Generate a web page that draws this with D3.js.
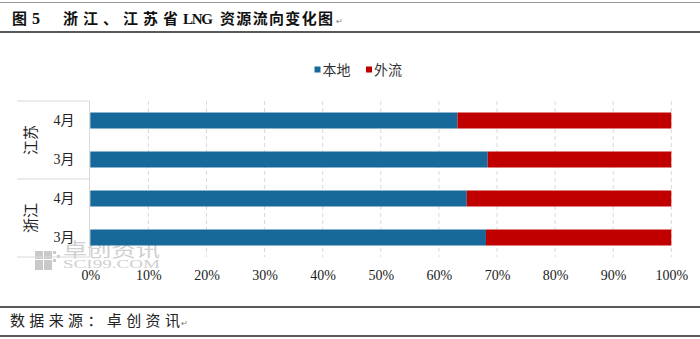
<!DOCTYPE html>
<html>
<head>
<meta charset="utf-8">
<script src="https://cdn.jsdelivr.net/npm/d3@7/dist/d3.min.js"></script>
<style>
  html, body { margin: 0; padding: 0; background: #fff; }
  svg { display: block; }
  text { font-family: "Liberation Serif", "Noto Sans CJK SC", serif; }
</style>
</head>
<body>
<svg id="chart" width="700" height="339"></svg>
<script>
// LNG flow shares by province and month (percent)
const provinces = ["江苏", "浙江"];
const rowProvince = ["江苏", "江苏", "浙江", "浙江"];
const rowMonth = ["4月", "3月", "4月", "3月"];
const localShare = [63.2, 68.4, 64.8, 68.1];
const outflowShare = [36.8, 31.6, 35.2, 31.9];
const seriesNames = ["本地", "外流"];
const seriesColors = ["#17699a", "#c00000"];
const tickValues = [0, 10, 20, 30, 40, 50, 60, 70, 80, 90, 100];
const tickLabels = ["0%", "10%", "20%", "30%", "40%", "50%", "60%", "70%", "80%", "90%", "100%"];

const svg = d3.select("#chart");
const cjk = "\"Noto Sans CJK SC\", sans-serif";

// Title block with rules above and below
svg.append("line").attr("x1", 0).attr("x2", 700).attr("y1", 2.5).attr("y2", 2.5)
  .attr("stroke", "#9a9a9a").attr("stroke-width", 1);
svg.append("line").attr("x1", 0).attr("x2", 700).attr("y1", 32).attr("y2", 32)
  .attr("stroke", "#222").attr("stroke-width", 1.3);
const titleParts = [
  { t: "图", x: 12, len: null, size: 15 },
  { t: "5", x: 32, len: null, size: 16 },
  { t: "浙江、江苏省", x: 63, len: 115, size: 15 },
  { t: "LNG", x: 183, len: 30, size: 15 },
  { t: "资源流向变化图", x: 220, len: 113, size: 15 }
];
titleParts.forEach(p => {
  const t = svg.append("text").attr("x", p.x).attr("y", 23.5)
    .attr("font-size", p.size).attr("font-weight", "bold").attr("fill", "#111")
    .text(p.t);
  if (p.len) t.attr("textLength", p.len).attr("lengthAdjust", "spacing");
});
svg.append("text").attr("x", 336).attr("y", 24)
  .attr("font-size", 8).attr("fill", "#777").text("↵");

// Source footer
svg.append("line").attr("x1", 0).attr("x2", 700).attr("y1", 307).attr("y2", 307)
  .attr("stroke", "#222").attr("stroke-width", 1.3);
svg.append("line").attr("x1", 0).attr("x2", 700).attr("y1", 336).attr("y2", 336)
  .attr("stroke", "#222").attr("stroke-width", 1.3);
svg.append("text").attr("x", 10).attr("y", 326)
  .attr("font-size", 15).attr("fill", "#222").style("font-family", cjk)
  .attr("textLength", 170).attr("lengthAdjust", "spacing")
  .text("数据来源：卓创资讯");
svg.append("text").attr("x", 181).attr("y", 326)
  .attr("font-size", 8).attr("fill", "#777").text("↵");

// Scales
const x = d3.scaleLinear().domain([0, 100]).range([90.3, 671.3]);
const rowIds = d3.range(rowMonth.length);
const y = d3.scaleBand().domain(rowIds).range([101, 257]).paddingInner(0.59).paddingOuter(0.295);
const plotTop = 101, plotBottom = 257;

// Dashed vertical gridlines
svg.append("g").selectAll("line").data(tickValues.slice(1)).join("line")
  .attr("x1", d => x(d)).attr("x2", d => x(d))
  .attr("y1", plotTop).attr("y2", plotBottom)
  .attr("stroke", "#d9d9d9").attr("stroke-width", 1).attr("stroke-dasharray", "4,3");

// Watermark
const wm = svg.append("g").attr("fill", "#c9c9c9");
[[35, 251, 8, 8], [44, 251, 8, 8], [35, 260, 8, 10], [44, 260, 8, 10]].forEach(r => {
  wm.append("rect").attr("x", r[0]).attr("y", r[1]).attr("width", r[2]).attr("height", r[3]);
});
wm.append("rect").attr("x", 53).attr("y", 251).attr("width", 3).attr("height", 3);
wm.append("rect").attr("x", 57).attr("y", 255).attr("width", 3).attr("height", 3);
wm.append("rect").attr("x", 53).attr("y", 259).attr("width", 3).attr("height", 3);
wm.append("text").attr("x", 63).attr("y", 257).attr("font-size", 19)
  .style("font-family", cjk).attr("textLength", 97).attr("lengthAdjust", "spacingAndGlyphs")
  .attr("fill", "#d0d0d0").text("卓创资讯");
wm.append("text").attr("x", 63).attr("y", 268).attr("font-size", 12)
  .attr("textLength", 97).attr("lengthAdjust", "spacingAndGlyphs")
  .attr("fill", "#d0d0d0").text("SCI99.COM");

// Stacked bars
const stack = rowIds.map(i => [
  { s: 0, x0: 0, x1: localShare[i], i },
  { s: 1, x0: localShare[i], x1: localShare[i] + outflowShare[i], i }
]).flat();
svg.append("g").selectAll("rect").data(stack).join("rect")
  .attr("x", d => x(d.x0))
  .attr("width", d => x(d.x1) - x(d.x0))
  .attr("y", d => y(d.i))
  .attr("height", y.bandwidth())
  .attr("fill", d => seriesColors[d.s]);

// Category axis: vertical line, group separators, month and province labels
const axisG = svg.append("g");
axisG.append("line").attr("x1", 89.5).attr("x2", 89.5).attr("y1", plotTop).attr("y2", plotBottom)
  .attr("stroke", "#d9d9d9");
const sepYs = [plotTop, (plotTop + plotBottom) / 2, plotBottom];
axisG.selectAll("line.sep").data(sepYs).join("line").attr("class", "sep")
  .attr("x1", 17).attr("x2", 89.5).attr("y1", d => d).attr("y2", d => d)
  .attr("stroke", "#d9d9d9");
axisG.selectAll("text.month").data(rowIds).join("text").attr("class", "month")
  .attr("x", 64).attr("y", d => y(d) + y.bandwidth() / 2)
  .attr("dy", "0.35em").attr("text-anchor", "middle")
  .attr("font-size", 14).attr("fill", "#222")
  .text(d => rowMonth[d]);
axisG.selectAll("text.prov").data(provinces).join("text").attr("class", "prov")
  .attr("transform", p => {
    const idx = rowIds.filter(i => rowProvince[i] === p);
    const cy = (y(idx[0]) + y(idx[idx.length - 1]) + y.bandwidth()) / 2;
    return `translate(31,${cy}) rotate(-90)`;
  })
  .attr("text-anchor", "middle").attr("dy", "0.35em")
  .attr("font-size", 15).attr("fill", "#222").style("font-family", cjk)
  .text(p => p);

// Value axis labels
const xAxis = d3.axisBottom(x).tickValues(tickValues)
  .tickFormat((d, i) => tickLabels[i]).tickSize(0).tickPadding(0);
const xg = svg.append("g").attr("transform", `translate(0,${plotBottom})`).call(xAxis);
xg.select(".domain").remove();
xg.selectAll("text").attr("font-size", 14).attr("fill", "#222")
  .style("font-family", "\"Liberation Serif\", serif").attr("y", 13);

// Legend
const legend = svg.append("g");
const legendX = [314.5, 366];
seriesNames.forEach((name, i) => {
  legend.append("rect").attr("x", legendX[i]).attr("y", 66.5).attr("width", 6).attr("height", 6)
    .attr("fill", seriesColors[i]);
  legend.append("text").attr("x", legendX[i] + 8).attr("y", 70).attr("dy", "0.35em")
    .attr("font-size", 14).attr("fill", "#333").style("font-family", cjk).text(name);
});
</script>
</body>
</html>
